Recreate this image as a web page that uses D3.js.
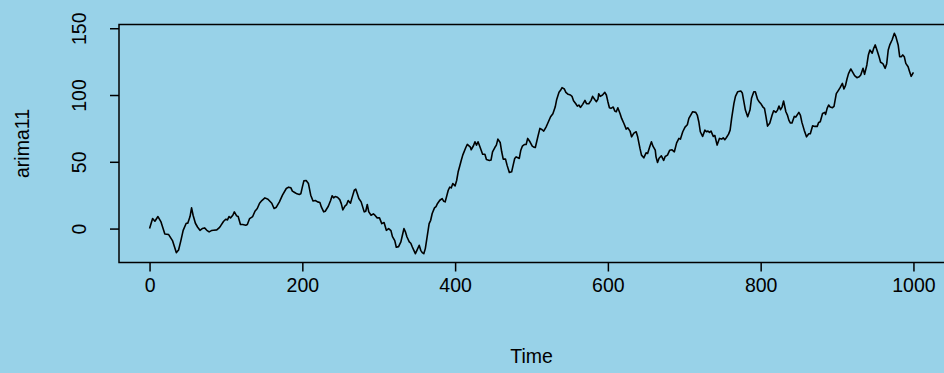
<!DOCTYPE html>
<html>
<head>
<meta charset="utf-8">
<script src="https://cdn.jsdelivr.net/npm/d3@7"></script>
<style>
  html, body { margin: 0; padding: 0; background: #98d2e8; }
  svg { display: block; }
  text { font-family: "Liberation Sans", Arial, Helvetica, sans-serif; fill: #000; }
</style>
</head>
<body>
<script>
const w = 944;
const h = 373;

// values (time step, series value)
const timePts = [0,4,7,11,15,20,25,30,35,38,41,44,48,50,53,55,57,60,63,66,69,72,75,78,81,84,88,91,93,97,100,102,104,106,109,111,114,116,119,122,126,128,131,135,138,141,144,147,151,155,160,163,166,170,
  174,179,182,185,187,190,193,196,198,200,202,205,208,211,214,217,220,223,225,228,230,234,237,239,241,243,246,249,251,253,256,258,260,263,265,268,270,272,274,277,281,283,285,287,290,293,295,298,301,304,307,310,313,316,318,
  321,323,326,329,331,333,335,337,340,342,344,346,348,350,353,355,357,359,361,363,366,368,370,373,375,377,380,383,385,387,
  391,393,395,397,400,402,404,406,408,410,414,416,420,421,424,426,428,430,432,436,439,441,445,447,449,452,454,456,459,461,463,466,468,471,474,476,478,480,484,486,488,491,493,495,498,501,503,505,508,
  511,514,516,519,521,525,528,531,533,536,538,540,543,545,548,551,553,555,558,560,562,564,567,570,572,575,578,580,583,585,587,588,590,593,596,598,600,602,604,607,609,611,613,616,618,621,624,626,629,631,634,637,639,642,644,647,650,652,655,657,659,662,663,665,667,
  670,673,675,678,681,684,687,690,693,695,698,701,704,706,709,711,715,717,719,721,724,727,729,731,733,735,738,740,743,746,749,751,753,755,758,760,762,765,767,770,774,776,778,780,783,786,788,791,793,796,798,800,
  803,805,807,809,812,815,817,820,822,824,826,828,830,833,835,837,839,841,844,846,850,852,854,857,860,863,865,868,871,874,876,878,881,884,885,887,889,891,894,896,899,902,904,907,909,911,913,915,918,920,923,926,929,931,934,936,939,941,943,946,948,950,952,955,957,960,963,965,967,969,972,975,977,980,982,984,986,988,990,993,995,997,1000];

const arimaVals = [0,7.5,5.5,9,5,-4,-4.5,-9,-18,-16,-9,-1.3,4,4,9,15.5,10,4,1,-1.3,0,0.5,-1.3,-2.5,-1.5,-1.3,-1,0.5,2,5.5,7,6.5,9,8,10,12.5,9.5,9,3,3,2.5,3,7.5,9,13,15,19,21,23,22,19,15,16,20,
  25,30,31,30.5,28,27,26,25.5,26,31,35.7,36,33.7,25,20.7,21,20,19.5,16,12.5,13,16.7,21,24.5,23,24,23.5,21.7,18.7,14,17,18,21,19,23,28.7,29.5,26,22.5,20,12.5,13,18,12.5,10,11,10,8,8,3.7,4.5,-1.3,0,-1.5,-6,
  -9,-14,-13.5,-10,-5,0,-2.5,-6.3,-10,-11,-13.8,-16.3,-18.8,-16.3,-12.5,-16.3,-18,-18.8,-15,-7.5,3.7,6.2,11.3,15.5,16.5,18.8,21.2,22.5,20.5,20,
  28.7,31,30.5,33.7,32,36,42.5,46.7,51,55,60.7,63,61,59,62,65,62.5,65,62,55.7,55.7,51.7,51,51.3,57.5,60.7,62.5,67,64.5,57.5,52,52,47.5,42,42.5,47.5,52.5,53.7,52.5,58.7,61.7,63,63,67.5,65,61.7,61,60.7,68,
  75,74,73,76,78.5,83.7,86,91,96.7,102,103.5,105.5,104.5,102,100.5,100,99,95.7,93.5,91.7,92.5,90.7,93,96,93.5,93.5,96,99,96.5,95,97,101,99,100,102,100,95,90.5,90,91,88,87.5,90.5,86,82.5,78.7,74.5,75.5,73,68.7,71.5,72.5,68.7,60,55,53,56.7,56.3,61.7,65,61.7,58.7,53.7,49.5,52.7,
  54.5,51,54,55,58.7,59,57.5,64.2,67.5,67,72.5,76,77.7,82.5,85.5,87.5,87,85,80,72.5,69,73.7,72.5,73,72,73,69,69.7,62.5,67.5,67,68,66.5,68,70.7,73.7,82.5,93.7,99,102.5,103,101.5,95,88.7,83.7,88.7,97.5,102.5,102.5,96.7,95,93.7,
  91,90,83.7,76.7,79,85,88.2,87,88.7,91.7,89,91,95.5,87.5,85,81,79,79,84,83.5,87,85,79.5,73.7,68.7,71,71,77,76.5,76.5,79.5,80,86.2,87,85.5,90,92.5,91,90.5,91.5,101,103.7,105.5,108.7,104.5,107,112,116,119.5,117.5,114.5,113,113.7,115,120,115.5,122.5,130,133.7,131.3,135,137.5,134,128.7,124.5,123.5,120,123.5,133.7,137.5,141.2,146.2,143.7,137.5,128.7,128.7,130,128.7,123.7,121.2,117.5,114,117];

const xTicks = [0, 200, 400, 600, 800, 1000];
const yTicks = [0, 50, 100, 150];
const xTitle = 'Time';
const yTitle = 'arima11';

document.addEventListener('DOMContentLoaded', function(){

  const data = timePts.map((t, i) => ({t: t, v: arimaVals[i]}));

  // R style 4% padding on both ranges
  const tExt = d3.extent(timePts);
  const vExt = d3.extent(arimaVals);
  const tPad = (tExt[1] - tExt[0]) * 0.04;
  const vPad = (vExt[1] - vExt[0]) * 0.04;

  const left = 119, right = 944, top = 24.5, bottom = 262.5;
  const fs = 19.5;

  const xScale = d3.scaleLinear()
    .domain([tExt[0] - tPad, tExt[1] + tPad])
    .range([left, right]);

  const yScale = d3.scaleLinear()
    .domain([vExt[0] - vPad, vExt[1] + vPad])
    .range([bottom, top]);

  const svg = d3.select('body')
    .append('svg')
    .attr('width', w)
    .attr('height', h);

  svg.append('rect')
    .attr('width', w)
    .attr('height', h)
    .attr('fill', '#98d2e8');

  const line = d3.line()
    .x(d => xScale(d.t))
    .y(d => yScale(d.v));

  svg.append('path')
    .datum(data)
    .attr('d', line)
    .attr('fill', 'none')
    .attr('stroke', '#000')
    .attr('stroke-width', 1.6)
    .attr('stroke-linejoin', 'round');

  // box (right side runs off the page like in the original)
  svg.append('rect')
    .attr('x', left)
    .attr('y', top)
    .attr('width', right - left + 2)
    .attr('height', bottom - top)
    .attr('fill', 'none')
    .attr('stroke', '#000')
    .attr('stroke-width', 1.5);

  const xAxis = d3.axisBottom(xScale)
    .tickValues(xTicks)
    .tickFormat(d3.format('d'))
    .tickSizeOuter(0)
    .tickSize(9)
    .tickPadding(7);

  const gx = svg.append('g')
    .attr('transform', `translate(0,${bottom})`)
    .call(xAxis);
  gx.select('.domain').remove();
  gx.selectAll('line').attr('stroke', '#000').attr('stroke-width', 1.5);
  gx.selectAll('text')
    .attr('font-size', fs)
    .attr('font-family', '"Liberation Sans", Arial, sans-serif')
    .attr('fill', '#000');

  const yAxis = d3.axisLeft(yScale)
    .tickValues(yTicks)
    .tickFormat(d3.format('d'))
    .tickSizeOuter(0)
    .tickSize(9);

  const gy = svg.append('g')
    .attr('transform', `translate(${left},0)`)
    .call(yAxis);
  gy.select('.domain').remove();
  gy.selectAll('line').attr('stroke', '#000').attr('stroke-width', 1.5);
  gy.selectAll('text')
    .attr('x', null)
    .attr('dy', null)
    .attr('transform', 'translate(-33,0) rotate(-90)')
    .attr('text-anchor', 'middle')
    .attr('font-size', fs)
    .attr('font-family', '"Liberation Sans", Arial, sans-serif')
    .attr('fill', '#000');

  svg.append('text')
    .attr('x', (left + right) / 2)
    .attr('y', 363)
    .attr('text-anchor', 'middle')
    .attr('font-size', fs)
    .text(xTitle);

  svg.append('text')
    .attr('transform', `translate(29,${(top + bottom) / 2}) rotate(-90)`)
    .attr('text-anchor', 'middle')
    .attr('font-size', fs)
    .text(yTitle);

});
</script>
</body>
</html>
